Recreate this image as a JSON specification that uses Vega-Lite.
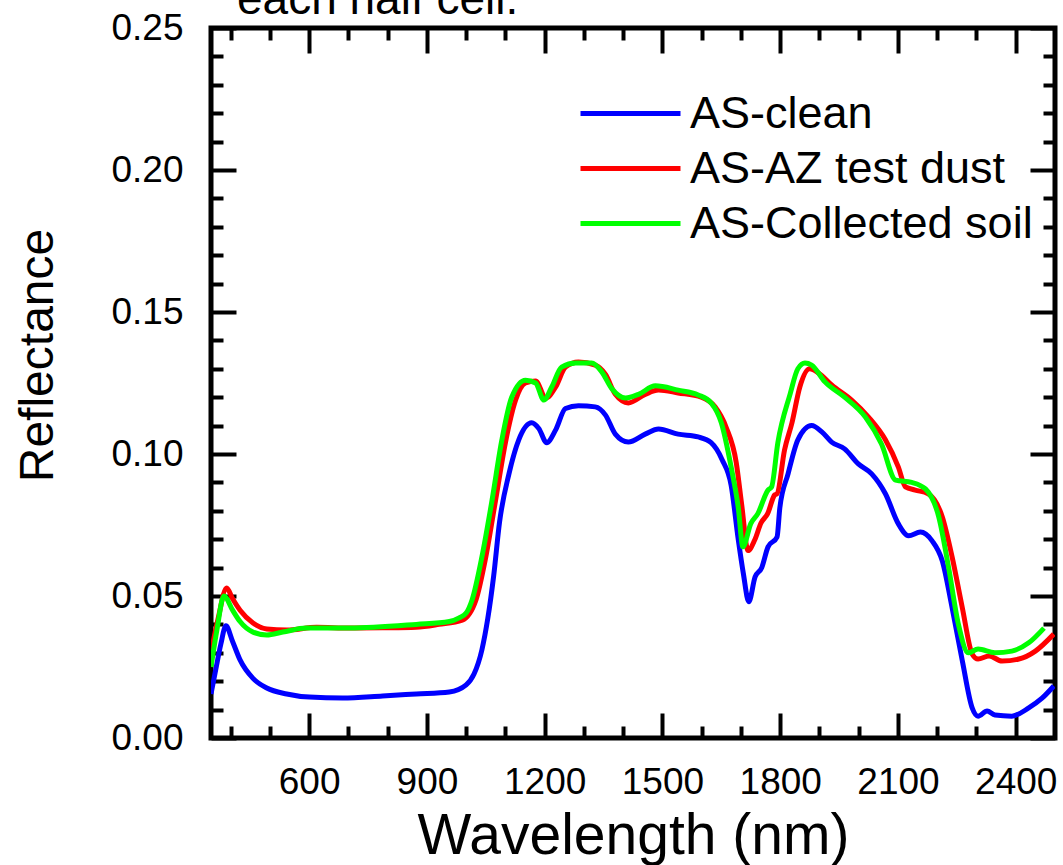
{
"$schema": "https://vega.github.io/schema/vega-lite/v6.json",
"width": 844, "height": 710,
"autosize": {"type": "none"},
"padding": {"left": 211, "top": 28, "right": 8, "bottom": 127},
"background": "white",
"title": {"text": "each half cell.", "anchor": "start", "frame": "group", "dx": 26, "offset": -51, "baseline": "alphabetic", "fontSize": 46, "font": "Liberation Sans", "fontWeight": "normal", "color": "black"},
"config": {
  "view": {"stroke": "black", "strokeWidth": 5},
  "axis": {"grid": false, "domain": false, "tickColor": "black", "tickWidth": 4, "labelColor": "black", "titleColor": "black", "labelFont": "Liberation Sans", "titleFont": "Liberation Sans", "titleFontWeight": "normal"}
},
"datasets": {
 "spectra": [
{"series":"AS-clean","wavelength":350,"reflectance":0.0155},
{"series":"AS-clean","wavelength":362,"reflectance":0.024},
{"series":"AS-clean","wavelength":375,"reflectance":0.033},
{"series":"AS-clean","wavelength":388,"reflectance":0.0395},
{"series":"AS-clean","wavelength":405,"reflectance":0.034},
{"series":"AS-clean","wavelength":424,"reflectance":0.0275},
{"series":"AS-clean","wavelength":457,"reflectance":0.021},
{"series":"AS-clean","wavelength":492,"reflectance":0.0176},
{"series":"AS-clean","wavelength":543,"reflectance":0.0155},
{"series":"AS-clean","wavelength":601,"reflectance":0.0144},
{"series":"AS-clean","wavelength":685,"reflectance":0.0141},
{"series":"AS-clean","wavelength":787,"reflectance":0.0148},
{"series":"AS-clean","wavelength":873,"reflectance":0.0155},
{"series":"AS-clean","wavelength":957,"reflectance":0.0162},
{"series":"AS-clean","wavelength":1000,"reflectance":0.0187},
{"series":"AS-clean","wavelength":1020,"reflectance":0.0225},
{"series":"AS-clean","wavelength":1040,"reflectance":0.031},
{"series":"AS-clean","wavelength":1055,"reflectance":0.042},
{"series":"AS-clean","wavelength":1070,"reflectance":0.057},
{"series":"AS-clean","wavelength":1085,"reflectance":0.076},
{"series":"AS-clean","wavelength":1109,"reflectance":0.093},
{"series":"AS-clean","wavelength":1134,"reflectance":0.105},
{"series":"AS-clean","wavelength":1167,"reflectance":0.111},
{"series":"AS-clean","wavelength":1185,"reflectance":0.109},
{"series":"AS-clean","wavelength":1205,"reflectance":0.104},
{"series":"AS-clean","wavelength":1228,"reflectance":0.1085},
{"series":"AS-clean","wavelength":1253,"reflectance":0.116},
{"series":"AS-clean","wavelength":1286,"reflectance":0.117},
{"series":"AS-clean","wavelength":1329,"reflectance":0.1166},
{"series":"AS-clean","wavelength":1355,"reflectance":0.1137},
{"series":"AS-clean","wavelength":1380,"reflectance":0.107},
{"series":"AS-clean","wavelength":1413,"reflectance":0.1042},
{"series":"AS-clean","wavelength":1456,"reflectance":0.107},
{"series":"AS-clean","wavelength":1490,"reflectance":0.1088},
{"series":"AS-clean","wavelength":1540,"reflectance":0.107},
{"series":"AS-clean","wavelength":1591,"reflectance":0.106},
{"series":"AS-clean","wavelength":1624,"reflectance":0.104},
{"series":"AS-clean","wavelength":1652,"reflectance":0.098},
{"series":"AS-clean","wavelength":1675,"reflectance":0.089},
{"series":"AS-clean","wavelength":1693,"reflectance":0.07},
{"series":"AS-clean","wavelength":1706,"reflectance":0.058},
{"series":"AS-clean","wavelength":1720,"reflectance":0.048},
{"series":"AS-clean","wavelength":1736,"reflectance":0.0567},
{"series":"AS-clean","wavelength":1753,"reflectance":0.06},
{"series":"AS-clean","wavelength":1769,"reflectance":0.0673},
{"series":"AS-clean","wavelength":1792,"reflectance":0.0708},
{"series":"AS-clean","wavelength":1799,"reflectance":0.081},
{"series":"AS-clean","wavelength":1820,"reflectance":0.093},
{"series":"AS-clean","wavelength":1845,"reflectance":0.105},
{"series":"AS-clean","wavelength":1880,"reflectance":0.11},
{"series":"AS-clean","wavelength":1906,"reflectance":0.1078},
{"series":"AS-clean","wavelength":1931,"reflectance":0.1042},
{"series":"AS-clean","wavelength":1964,"reflectance":0.1018},
{"series":"AS-clean","wavelength":1999,"reflectance":0.0965},
{"series":"AS-clean","wavelength":2033,"reflectance":0.093},
{"series":"AS-clean","wavelength":2068,"reflectance":0.086},
{"series":"AS-clean","wavelength":2101,"reflectance":0.0754},
{"series":"AS-clean","wavelength":2127,"reflectance":0.0712},
{"series":"AS-clean","wavelength":2157,"reflectance":0.0725},
{"series":"AS-clean","wavelength":2187,"reflectance":0.0694},
{"series":"AS-clean","wavelength":2213,"reflectance":0.0623},
{"series":"AS-clean","wavelength":2238,"reflectance":0.0458},
{"series":"AS-clean","wavelength":2264,"reflectance":0.0271},
{"series":"AS-clean","wavelength":2289,"reflectance":0.0106},
{"series":"AS-clean","wavelength":2304,"reflectance":0.0077},
{"series":"AS-clean","wavelength":2327,"reflectance":0.0095},
{"series":"AS-clean","wavelength":2347,"reflectance":0.0081},
{"series":"AS-clean","wavelength":2390,"reflectance":0.0077},
{"series":"AS-clean","wavelength":2433,"reflectance":0.0106},
{"series":"AS-clean","wavelength":2467,"reflectance":0.014},
{"series":"AS-clean","wavelength":2497,"reflectance":0.0183},
{"series":"AS-AZ test dust","wavelength":350,"reflectance":0.03},
{"series":"AS-AZ test dust","wavelength":368,"reflectance":0.042},
{"series":"AS-AZ test dust","wavelength":390,"reflectance":0.0528},
{"series":"AS-AZ test dust","wavelength":405,"reflectance":0.049},
{"series":"AS-AZ test dust","wavelength":424,"reflectance":0.045},
{"series":"AS-AZ test dust","wavelength":457,"reflectance":0.0405},
{"series":"AS-AZ test dust","wavelength":492,"reflectance":0.0384},
{"series":"AS-AZ test dust","wavelength":543,"reflectance":0.038},
{"series":"AS-AZ test dust","wavelength":619,"reflectance":0.039},
{"series":"AS-AZ test dust","wavelength":703,"reflectance":0.0387},
{"series":"AS-AZ test dust","wavelength":787,"reflectance":0.0388},
{"series":"AS-AZ test dust","wavelength":873,"reflectance":0.039},
{"series":"AS-AZ test dust","wavelength":931,"reflectance":0.04},
{"series":"AS-AZ test dust","wavelength":990,"reflectance":0.0415},
{"series":"AS-AZ test dust","wavelength":1025,"reflectance":0.0486},
{"series":"AS-AZ test dust","wavelength":1050,"reflectance":0.0637},
{"series":"AS-AZ test dust","wavelength":1075,"reflectance":0.0838},
{"series":"AS-AZ test dust","wavelength":1100,"reflectance":0.104},
{"series":"AS-AZ test dust","wavelength":1126,"reflectance":0.119},
{"series":"AS-AZ test dust","wavelength":1151,"reflectance":0.125},
{"series":"AS-AZ test dust","wavelength":1177,"reflectance":0.1257},
{"series":"AS-AZ test dust","wavelength":1203,"reflectance":0.1197},
{"series":"AS-AZ test dust","wavelength":1228,"reflectance":0.1236},
{"series":"AS-AZ test dust","wavelength":1253,"reflectance":0.1306},
{"series":"AS-AZ test dust","wavelength":1286,"reflectance":0.1324},
{"series":"AS-AZ test dust","wavelength":1329,"reflectance":0.1313},
{"series":"AS-AZ test dust","wavelength":1355,"reflectance":0.128},
{"series":"AS-AZ test dust","wavelength":1380,"reflectance":0.121},
{"series":"AS-AZ test dust","wavelength":1413,"reflectance":0.118},
{"series":"AS-AZ test dust","wavelength":1456,"reflectance":0.121},
{"series":"AS-AZ test dust","wavelength":1490,"reflectance":0.1225},
{"series":"AS-AZ test dust","wavelength":1540,"reflectance":0.1215},
{"series":"AS-AZ test dust","wavelength":1599,"reflectance":0.12},
{"series":"AS-AZ test dust","wavelength":1634,"reflectance":0.1166},
{"series":"AS-AZ test dust","wavelength":1662,"reflectance":0.1095},
{"series":"AS-AZ test dust","wavelength":1688,"reflectance":0.097},
{"series":"AS-AZ test dust","wavelength":1702,"reflectance":0.082},
{"series":"AS-AZ test dust","wavelength":1718,"reflectance":0.066},
{"series":"AS-AZ test dust","wavelength":1735,"reflectance":0.0697},
{"series":"AS-AZ test dust","wavelength":1751,"reflectance":0.0757},
{"series":"AS-AZ test dust","wavelength":1768,"reflectance":0.079},
{"series":"AS-AZ test dust","wavelength":1786,"reflectance":0.0856},
{"series":"AS-AZ test dust","wavelength":1792,"reflectance":0.086},
{"series":"AS-AZ test dust","wavelength":1811,"reflectance":0.1014},
{"series":"AS-AZ test dust","wavelength":1830,"reflectance":0.111},
{"series":"AS-AZ test dust","wavelength":1850,"reflectance":0.1236},
{"series":"AS-AZ test dust","wavelength":1875,"reflectance":0.13},
{"series":"AS-AZ test dust","wavelength":1898,"reflectance":0.1285},
{"series":"AS-AZ test dust","wavelength":1931,"reflectance":0.1243},
{"series":"AS-AZ test dust","wavelength":1982,"reflectance":0.119},
{"series":"AS-AZ test dust","wavelength":2025,"reflectance":0.113},
{"series":"AS-AZ test dust","wavelength":2068,"reflectance":0.105},
{"series":"AS-AZ test dust","wavelength":2101,"reflectance":0.0954},
{"series":"AS-AZ test dust","wavelength":2119,"reflectance":0.0884},
{"series":"AS-AZ test dust","wavelength":2144,"reflectance":0.0873},
{"series":"AS-AZ test dust","wavelength":2177,"reflectance":0.086},
{"series":"AS-AZ test dust","wavelength":2213,"reflectance":0.0778},
{"series":"AS-AZ test dust","wavelength":2238,"reflectance":0.0637},
{"series":"AS-AZ test dust","wavelength":2264,"reflectance":0.0458},
{"series":"AS-AZ test dust","wavelength":2289,"reflectance":0.0296},
{"series":"AS-AZ test dust","wavelength":2304,"reflectance":0.0278},
{"series":"AS-AZ test dust","wavelength":2332,"reflectance":0.0289},
{"series":"AS-AZ test dust","wavelength":2365,"reflectance":0.0271},
{"series":"AS-AZ test dust","wavelength":2408,"reflectance":0.0278},
{"series":"AS-AZ test dust","wavelength":2450,"reflectance":0.0306},
{"series":"AS-AZ test dust","wavelength":2497,"reflectance":0.0366},
{"series":"AS-Collected soil","wavelength":350,"reflectance":0.025},
{"series":"AS-Collected soil","wavelength":365,"reflectance":0.038},
{"series":"AS-Collected soil","wavelength":383,"reflectance":0.05},
{"series":"AS-Collected soil","wavelength":405,"reflectance":0.045},
{"series":"AS-Collected soil","wavelength":424,"reflectance":0.041},
{"series":"AS-Collected soil","wavelength":457,"reflectance":0.0373},
{"series":"AS-Collected soil","wavelength":492,"reflectance":0.0363},
{"series":"AS-Collected soil","wavelength":533,"reflectance":0.0373},
{"series":"AS-Collected soil","wavelength":593,"reflectance":0.0387},
{"series":"AS-Collected soil","wavelength":703,"reflectance":0.0387},
{"series":"AS-Collected soil","wavelength":873,"reflectance":0.04},
{"series":"AS-Collected soil","wavelength":957,"reflectance":0.041},
{"series":"AS-Collected soil","wavelength":982,"reflectance":0.0423},
{"series":"AS-Collected soil","wavelength":1000,"reflectance":0.044},
{"series":"AS-Collected soil","wavelength":1015,"reflectance":0.0486},
{"series":"AS-Collected soil","wavelength":1040,"reflectance":0.0637},
{"series":"AS-Collected soil","wavelength":1066,"reflectance":0.0838},
{"series":"AS-Collected soil","wavelength":1091,"reflectance":0.105},
{"series":"AS-Collected soil","wavelength":1116,"reflectance":0.12},
{"series":"AS-Collected soil","wavelength":1151,"reflectance":0.126},
{"series":"AS-Collected soil","wavelength":1177,"reflectance":0.125},
{"series":"AS-Collected soil","wavelength":1198,"reflectance":0.119},
{"series":"AS-Collected soil","wavelength":1218,"reflectance":0.1236},
{"series":"AS-Collected soil","wavelength":1243,"reflectance":0.1306},
{"series":"AS-Collected soil","wavelength":1279,"reflectance":0.132},
{"series":"AS-Collected soil","wavelength":1320,"reflectance":0.132},
{"series":"AS-Collected soil","wavelength":1345,"reflectance":0.129},
{"series":"AS-Collected soil","wavelength":1371,"reflectance":0.123},
{"series":"AS-Collected soil","wavelength":1406,"reflectance":0.1197},
{"series":"AS-Collected soil","wavelength":1439,"reflectance":0.121},
{"series":"AS-Collected soil","wavelength":1482,"reflectance":0.124},
{"series":"AS-Collected soil","wavelength":1540,"reflectance":0.1225},
{"series":"AS-Collected soil","wavelength":1591,"reflectance":0.1208},
{"series":"AS-Collected soil","wavelength":1624,"reflectance":0.118},
{"series":"AS-Collected soil","wavelength":1650,"reflectance":0.111},
{"series":"AS-Collected soil","wavelength":1675,"reflectance":0.0954},
{"series":"AS-Collected soil","wavelength":1693,"reflectance":0.0813},
{"series":"AS-Collected soil","wavelength":1705,"reflectance":0.0673},
{"series":"AS-Collected soil","wavelength":1725,"reflectance":0.0755},
{"series":"AS-Collected soil","wavelength":1743,"reflectance":0.079},
{"series":"AS-Collected soil","wavelength":1769,"reflectance":0.0873},
{"series":"AS-Collected soil","wavelength":1778,"reflectance":0.0884},
{"series":"AS-Collected soil","wavelength":1794,"reflectance":0.104},
{"series":"AS-Collected soil","wavelength":1825,"reflectance":0.121},
{"series":"AS-Collected soil","wavelength":1845,"reflectance":0.13},
{"series":"AS-Collected soil","wavelength":1863,"reflectance":0.132},
{"series":"AS-Collected soil","wavelength":1880,"reflectance":0.1313},
{"series":"AS-Collected soil","wavelength":1914,"reflectance":0.1254},
{"series":"AS-Collected soil","wavelength":1964,"reflectance":0.12},
{"series":"AS-Collected soil","wavelength":2017,"reflectance":0.113},
{"series":"AS-Collected soil","wavelength":2058,"reflectance":0.1035},
{"series":"AS-Collected soil","wavelength":2094,"reflectance":0.0908},
{"series":"AS-Collected soil","wavelength":2135,"reflectance":0.09},
{"series":"AS-Collected soil","wavelength":2170,"reflectance":0.0877},
{"series":"AS-Collected soil","wavelength":2204,"reflectance":0.0778},
{"series":"AS-Collected soil","wavelength":2229,"reflectance":0.06},
{"series":"AS-Collected soil","wavelength":2254,"reflectance":0.04},
{"series":"AS-Collected soil","wavelength":2279,"reflectance":0.03},
{"series":"AS-Collected soil","wavelength":2304,"reflectance":0.0313},
{"series":"AS-Collected soil","wavelength":2347,"reflectance":0.03},
{"series":"AS-Collected soil","wavelength":2390,"reflectance":0.0306},
{"series":"AS-Collected soil","wavelength":2433,"reflectance":0.0335},
{"series":"AS-Collected soil","wavelength":2472,"reflectance":0.0387}
 ]
},
"data": {"name": "spectra"},
"layer": [
 {
  "mark": {"type": "line", "opacity": 0},
  "encoding": {
   "x": {"field": "wavelength", "type": "quantitative", "scale": {"domain": [350, 2500], "nice": false, "zero": false},
         "axis": {"orient": "bottom", "values": [400,500,700,800,1000,1100,1300,1400,1600,1700,1900,2000,2200,2300], "tickSize": -12, "labels": false, "title": null}},
   "y": {"field": "reflectance", "type": "quantitative", "scale": {"domain": [0, 0.25], "nice": false, "zero": false},
         "axis": {"orient": "left", "values": [0.01,0.02,0.03,0.04,0.06,0.07,0.08,0.09,0.11,0.12,0.13,0.14,0.16,0.17,0.18,0.19,0.21,0.22,0.23,0.24], "tickSize": -12, "labels": false, "title": null}}
  }
 },
 {
  "mark": {"type": "line", "opacity": 0},
  "encoding": {
   "x": {"field": "wavelength", "type": "quantitative", "scale": {"domain": [350, 2500], "nice": false, "zero": false},
         "axis": {"orient": "top", "values": [600,900,1200,1500,1800,2100,2400], "tickSize": -25, "labels": false, "title": null}},
   "y": {"field": "reflectance", "type": "quantitative", "scale": {"domain": [0, 0.25], "nice": false, "zero": false},
         "axis": {"orient": "right", "values": [0,0.05,0.1,0.15,0.2,0.25], "tickSize": -25, "labels": false, "title": null}}
  }
 },
 {
  "mark": {"type": "line", "opacity": 0},
  "encoding": {
   "x": {"field": "wavelength", "type": "quantitative", "scale": {"domain": [350, 2500], "nice": false, "zero": false},
         "axis": {"orient": "top", "values": [400,500,700,800,1000,1100,1300,1400,1600,1700,1900,2000,2200,2300], "tickSize": -12, "labels": false, "title": null}},
   "y": {"field": "reflectance", "type": "quantitative", "scale": {"domain": [0, 0.25], "nice": false, "zero": false},
         "axis": {"orient": "right", "values": [0.01,0.02,0.03,0.04,0.06,0.07,0.08,0.09,0.11,0.12,0.13,0.14,0.16,0.17,0.18,0.19,0.21,0.22,0.23,0.24], "tickSize": -12, "labels": false, "title": null}}
  }
 },
 {
  "mark": {"type": "line", "strokeWidth": 5, "interpolate": "monotone", "clip": true},
  "encoding": {
   "x": {"field": "wavelength", "type": "quantitative", "scale": {"domain": [350, 2500], "nice": false, "zero": false},
         "axis": {"orient": "bottom", "values": [600,900,1200,1500,1800,2100,2400], "format": "d", "tickSize": -25, "labelFontSize": 37, "labelPadding": 51, "title": "Wavelength (nm)", "titleFontSize": 57, "titlePadding": 8}},
   "y": {"field": "reflectance", "type": "quantitative", "scale": {"domain": [0, 0.25], "nice": false, "zero": false},
         "axis": {"orient": "left", "values": [0,0.05,0.1,0.15,0.2,0.25], "format": ".2f", "tickSize": -25, "labelFontSize": 37, "labelPadding": 53, "title": "Reflectance", "titleFontSize": 48, "titlePadding": 48, "titleY": 327}},
   "color": {"field": "series", "type": "nominal",
     "scale": {"domain": ["AS-clean", "AS-AZ test dust", "AS-Collected soil"], "range": ["#0000ff", "#ff0000", "#00ff00"]},
     "legend": {"orient": "none", "legendX": 392, "legendY": 58, "title": null, "symbolType": "M-2,0H2", "symbolSize": 2500, "symbolStrokeWidth": 5, "symbolFillColor": "transparent", "labelFontSize": 45, "labelFont": "Liberation Sans", "labelColor": "black", "labelOffset": 32, "labelLimit": 0, "rowPadding": 4, "padding": 0}}
  }
 }
],
"resolve": {"axis": {"x": "independent", "y": "independent"}}
}
